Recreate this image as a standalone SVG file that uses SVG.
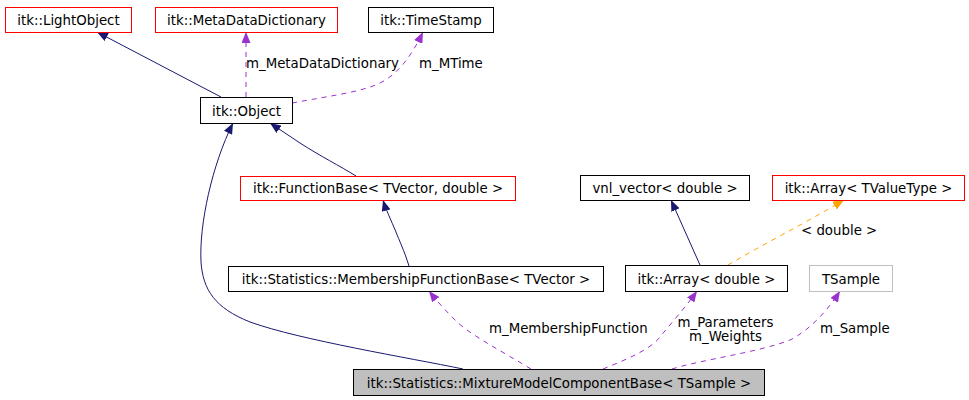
<svg xmlns="http://www.w3.org/2000/svg" width="969" height="400" viewBox="0 0 969 400">
<style>
text{font-family:"DejaVu Sans","Liberation Sans",sans-serif;font-size:13.33px;fill:#000}
.n{text-anchor:middle}
.box{fill:#fff;stroke:#000;stroke-width:1}
.red{stroke:#ff0000}
.gray{stroke:#bfbfbf}
.main{fill:#bfbfbf}
.e{fill:none;stroke-width:1}
.inh{stroke:#191970;marker-end:url(#an)}
.use{stroke:#9a32cd;stroke-dasharray:5,5;marker-end:url(#ap)}
.tpl{stroke:#ffa500;stroke-dasharray:5,5;marker-end:url(#ao)}
</style>
<defs>
<marker id="an" viewBox="0 0 11 9" refX="11" refY="4.5" markerWidth="11" markerHeight="9" orient="auto" markerUnits="userSpaceOnUse"><path d="M0,0 L11,4.5 L0,9 z" fill="#191970" stroke="none"/></marker>
<marker id="ap" viewBox="0 0 11 9" refX="11" refY="4.5" markerWidth="11" markerHeight="9" orient="auto" markerUnits="userSpaceOnUse"><path d="M0,0 L11,4.5 L0,9 z" fill="#9a32cd" stroke="none"/></marker>
<marker id="ao" viewBox="0 0 11 9" refX="11" refY="4.5" markerWidth="11" markerHeight="9" orient="auto" markerUnits="userSpaceOnUse"><path d="M0,0 L11,4.5 L0,9 z" fill="#ffa500" stroke="none"/></marker>
</defs>
<rect width="969" height="400" fill="#fff"/>
<g id="connectors">
<path class="e inh" d="M221,97 L97,32"/>
<path class="e use" d="M246,97 L246,32"/>
<path class="e use" d="M292,103 C330,96 360,92 378,84 C398,75 412,55 423,32"/>
<path class="e inh" d="M356,176 C340,166 320,156 300,143 C290,136 280,130 270,123"/>
<path class="e inh" d="M463,369 C410,358 300,340 250,322 C215,308 203,290 201,262 C199,225 212,165 233,123"/>
<path class="e inh" d="M409,266 C404,250 399,240 396,232 C391,220 386,210 383,200"/>
<path class="e inh" d="M700,265 L671,200"/>
<path class="e tpl" d="M728,265 C760,246 800,226 844,200"/>
<path class="e use" d="M531,369 C500,350 470,335 455,320 C445,310 436,300 429,291"/>
<path class="e use" d="M603,369 C625,360 650,350 660,337 C672,322 685,308 697,291"/>
<path class="e use" d="M672,369 C700,360 760,352 790,340 C810,330 828,310 840,291"/>
<text x="246" y="68">m_MetaDataDictionary</text>
<text x="419" y="68">m_MTime</text>
<text x="801" y="235">&lt; double &gt;</text>
<text x="489" y="333">m_MembershipFunction</text>
<text x="725.5" y="327" class="n">m_Parameters</text>
<text x="725.5" y="341" class="n">m_Weights</text>
<text x="820" y="333">m_Sample</text>
</g>
<g id="lightobject"><rect class="box red" x="5.5" y="7.5" width="126" height="25"/><text class="n" x="68.5" y="24.5">itk::LightObject</text></g>
<g id="metadatadictionary"><rect class="box red" x="155.5" y="7.5" width="182" height="25"/><text class="n" x="246.5" y="24.5">itk::MetaDataDictionary</text></g>
<g id="timestamp"><rect class="box" x="368.5" y="7.5" width="125" height="25"/><text class="n" x="431" y="24.5">itk::TimeStamp</text></g>
<g id="object"><rect class="box" x="200.5" y="97.5" width="92" height="26"/><text class="n" x="246.5" y="115.5">itk::Object</text></g>
<g id="functionbase"><rect class="box red" x="240.5" y="176.5" width="275" height="24"/><text class="n" x="378" y="193">itk::FunctionBase&lt; TVector, double &gt;</text></g>
<g id="vnlvector"><rect class="box" x="580.5" y="175.5" width="169" height="25"/><text class="n" x="665" y="192.5">vnl_vector&lt; double &gt;</text></g>
<g id="arraytvaluetype"><rect class="box red" x="772.5" y="175.5" width="192" height="25"/><text class="n" x="868.5" y="192.5">itk::Array&lt; TValueType &gt;</text></g>
<g id="membershipfunctionbase"><rect class="box" x="228.5" y="266.5" width="375" height="25"/><text class="n" x="416" y="283.5">itk::Statistics::MembershipFunctionBase&lt; TVector &gt;</text></g>
<g id="arraydouble"><rect class="box" x="625.5" y="265.5" width="162" height="26"/><text class="n" x="706.5" y="283.5">itk::Array&lt; double &gt;</text></g>
<g id="tsample"><rect class="box gray" x="809.5" y="265.5" width="83" height="26"/><text class="n" x="851" y="283.5">TSample</text></g>
<g id="mixturemodelcomponentbase"><rect class="box main" x="353.5" y="369.5" width="411" height="26"/><text class="n" x="559" y="387.5">itk::Statistics::MixtureModelComponentBase&lt; TSample &gt;</text></g>
</svg>
